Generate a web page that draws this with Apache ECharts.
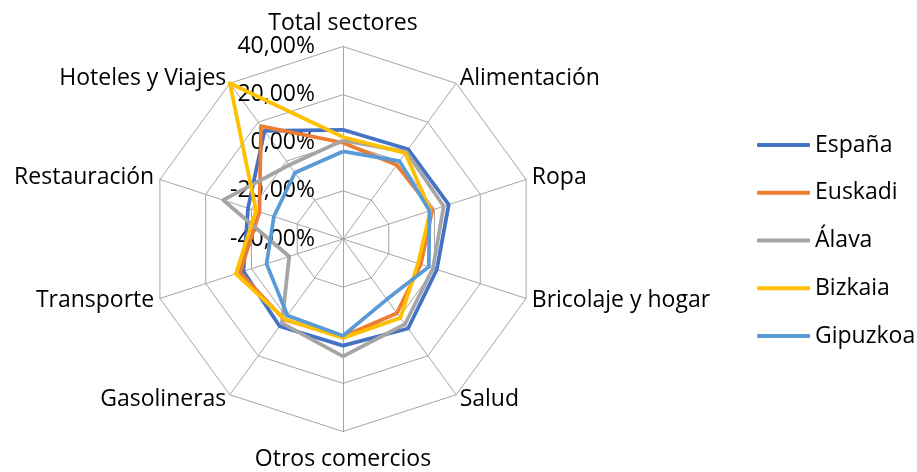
<!DOCTYPE html>
<html>
<head>
<meta charset="utf-8">
<script src="https://cdn.jsdelivr.net/npm/echarts@6/dist/echarts.min.js"></script>
<style>
  html, body { margin: 0; padding: 0; background: #fff; }
  #chart { width: 917px; height: 472px; }
</style>
</head>
<body>
<div id="chart"></div>
<script>
// Sector names around the radar, clockwise from the top
const sectors = ['Total sectores', 'Alimentación', 'Ropa', 'Bricolaje y hogar', 'Salud',
  'Otros comercios', 'Gasolineras', 'Transporte', 'Restauración', 'Hoteles y Viajes'];

// Year-on-year change (%) per sector
const espana   = [5.4, 6.1, 6.2, 1.0, 6.0, 4.3, 4.8, 3.5, 1.5, 15.5];
const euskadi  = [0.0, -2.0, -1.0, -6.0, -1.9, 0.5, 1.5, 5.0, -3.5, 18.0];
const alava    = [1.0, 4.8, 4.0, -0.7, 3.8, 8.8, 3.2, -16.5, 12.4, -2.0];
const bizkaia  = [2.4, 4.1, -1.8, -7.2, 0.6, 1.1, 1.2, 6.8, -2.0, 40.0];
const gipuzkoa = [-3.6, 0.0, -2.2, -2.5, -9.0, 0.2, -0.7, -6.6, -9.8, -6.0];

// Ring scale and its tick labels
const ringMin = -40;
const ringMax = 40;
const ringValues = [-40, -20, 0, 20, 40];
const ringLabels = ['-40,00%', '-20,00%', '0,00%', '20,00%', '40,00%'];

const seriesDefs = [
  { name: 'España', data: espana, color: '#4472C4' },
  { name: 'Euskadi', data: euskadi, color: '#ED7D31' },
  { name: 'Álava', data: alava, color: '#A5A5A5' },
  { name: 'Bizkaia', data: bizkaia, color: '#FFC000' },
  { name: 'Gipuzkoa', data: gipuzkoa, color: '#5B9BD5' }
];

const FONT = 'Open Sans';
const NAME_SIZE = 23;

// The radar lays its axes out counter-clockwise; keep the first axis on top
// and reverse the rest so the sectors read clockwise.
const order = sectors.map((_, i) => (i === 0 ? 0 : sectors.length - i));
const reorder = arr => order.map(i => arr[i]);

const indicator = reorder(sectors).map((name, i) => {
  const ind = { name: name, min: ringMin, max: ringMax };
  if (i === 0) {
    // scale labels only along the vertical axis
    ind.axisLabel = {
      show: true,
      color: '#000',
      fontFamily: FONT,
      fontSize: 23,
      margin: 28,
      formatter: v => {
        const k = ringValues.indexOf(Math.round(v));
        return k >= 0 ? ringLabels[k] : '';
      }
    };
  }
  return ind;
});

const bottomName = sectors[5];

const chart = echarts.init(document.getElementById('chart'), null, { renderer: 'canvas' });

chart.setOption({
  animation: false,
  backgroundColor: '#fff',
  legend: {
    orient: 'vertical',
    left: 757,
    top: 133,
    padding: 0,
    icon: 'roundRect',
    itemWidth: 53,
    itemHeight: 4,
    itemGap: 23.75,
    textStyle: { color: '#000', fontFamily: FONT, fontSize: NAME_SIZE, lineHeight: 24 },
    data: seriesDefs.map(s => s.name)
  },
  radar: {
    center: [343, 239],
    radius: 192.5,
    startAngle: 90,
    shape: 'polygon',
    splitNumber: 4,
    indicator: indicator,
    nameGap: 6,
    axisName: {
      color: '#000',
      fontFamily: FONT,
      fontSize: NAME_SIZE,
      // the bottom name sits a little further from the outer ring
      formatter: name => (name === bottomName ? '{low|' + name + '}' : name),
      rich: {
        low: { fontFamily: FONT, fontSize: NAME_SIZE, color: '#000', padding: [10, 0, 0, 0] }
      }
    },
    axisLine: { lineStyle: { color: '#A6A6A6', width: 1 } },
    splitLine: { lineStyle: { color: '#A6A6A6', width: 1 } },
    splitArea: { show: false },
    axisTick: { show: false },
    axisLabel: { show: false }
  },
  series: [{
    type: 'radar',
    symbol: 'none',
    data: seriesDefs.map(s => ({
      name: s.name,
      value: reorder(s.data),
      lineStyle: { color: s.color, width: 3.75, join: 'round' },
      itemStyle: { color: s.color }
    }))
  }]
});
</script>
</body>
</html>
